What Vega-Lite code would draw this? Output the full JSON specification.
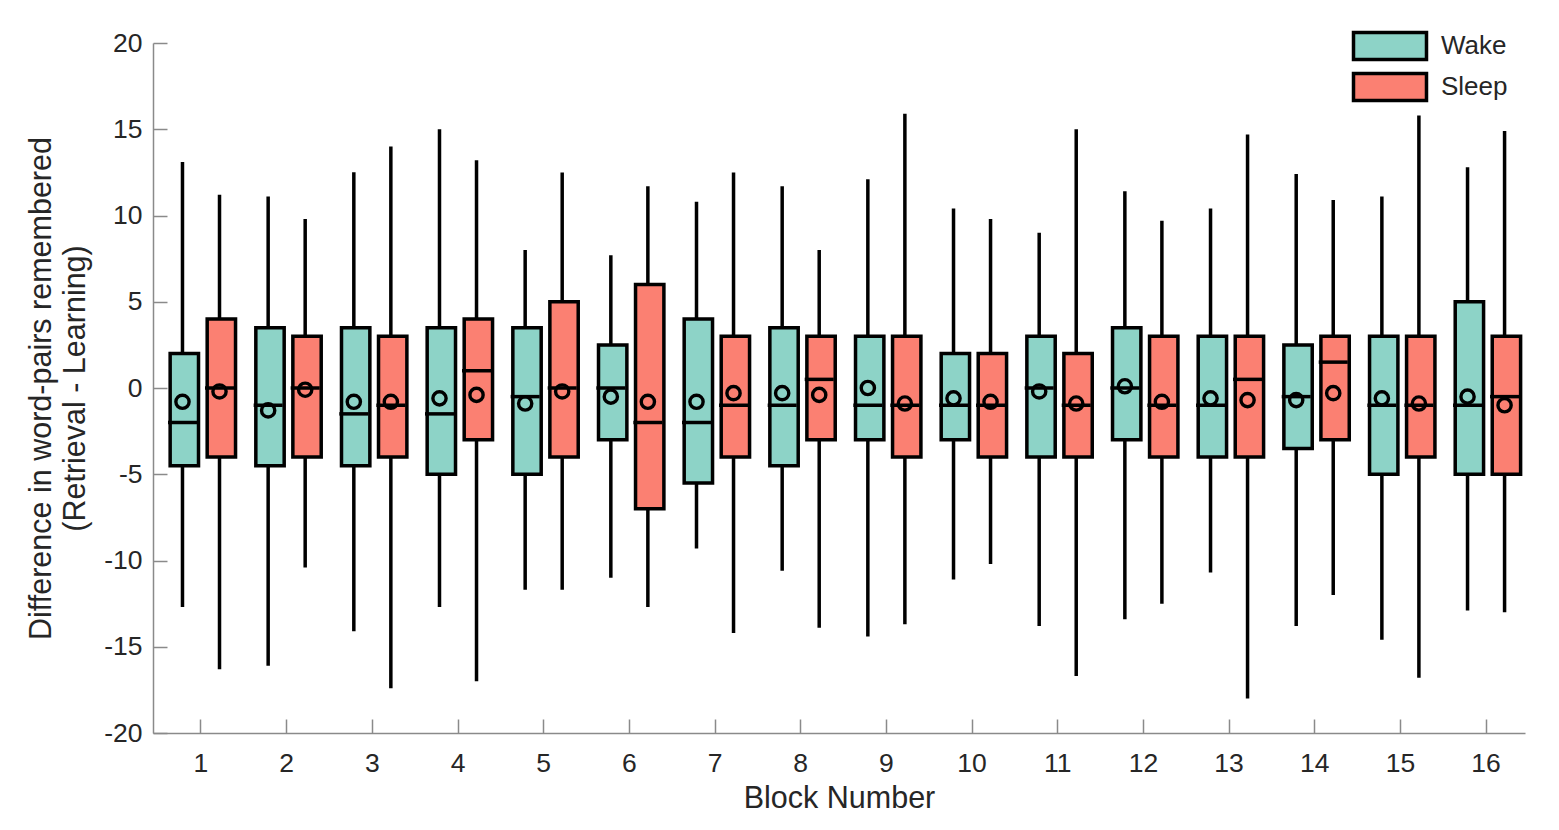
{
  "$schema": "https://vega.github.io/schema/vega-lite/v6.json",
  "autosize": {"type": "none"},
  "padding": {"left": 153, "top": 43, "right": 34, "bottom": 97},
  "width": 1372,
  "height": 690,
  "background": "white",
  "data": {
    "values": [
      {"block": 1, "group": "Wake", "lo": -12.7, "q1": -4.5, "med": -2, "q3": 2, "hi": 13.1, "mean": -0.8},
      {"block": 1, "group": "Sleep", "lo": -16.3, "q1": -4, "med": 0, "q3": 4, "hi": 11.2, "mean": -0.2},
      {"block": 2, "group": "Wake", "lo": -16.1, "q1": -4.5, "med": -1, "q3": 3.5, "hi": 11.1, "mean": -1.3},
      {"block": 2, "group": "Sleep", "lo": -10.4, "q1": -4, "med": 0, "q3": 3, "hi": 9.8, "mean": -0.1},
      {"block": 3, "group": "Wake", "lo": -14.1, "q1": -4.5, "med": -1.5, "q3": 3.5, "hi": 12.5, "mean": -0.8},
      {"block": 3, "group": "Sleep", "lo": -17.4, "q1": -4, "med": -1, "q3": 3, "hi": 14, "mean": -0.8},
      {"block": 4, "group": "Wake", "lo": -12.7, "q1": -5, "med": -1.5, "q3": 3.5, "hi": 15, "mean": -0.6},
      {"block": 4, "group": "Sleep", "lo": -17, "q1": -3, "med": 1, "q3": 4, "hi": 13.2, "mean": -0.4},
      {"block": 5, "group": "Wake", "lo": -11.7, "q1": -5, "med": -0.5, "q3": 3.5, "hi": 8, "mean": -0.9},
      {"block": 5, "group": "Sleep", "lo": -11.7, "q1": -4, "med": 0, "q3": 5, "hi": 12.5, "mean": -0.2},
      {"block": 6, "group": "Wake", "lo": -11, "q1": -3, "med": 0, "q3": 2.5, "hi": 7.7, "mean": -0.5},
      {"block": 6, "group": "Sleep", "lo": -12.7, "q1": -7, "med": -2, "q3": 6, "hi": 11.7, "mean": -0.8},
      {"block": 7, "group": "Wake", "lo": -9.3, "q1": -5.5, "med": -2, "q3": 4, "hi": 10.8, "mean": -0.8},
      {"block": 7, "group": "Sleep", "lo": -14.2, "q1": -4, "med": -1, "q3": 3, "hi": 12.5, "mean": -0.3},
      {"block": 8, "group": "Wake", "lo": -10.6, "q1": -4.5, "med": -1, "q3": 3.5, "hi": 11.7, "mean": -0.3},
      {"block": 8, "group": "Sleep", "lo": -13.9, "q1": -3, "med": 0.5, "q3": 3, "hi": 8, "mean": -0.4},
      {"block": 9, "group": "Wake", "lo": -14.4, "q1": -3, "med": -1, "q3": 3, "hi": 12.1, "mean": 0},
      {"block": 9, "group": "Sleep", "lo": -13.7, "q1": -4, "med": -1, "q3": 3, "hi": 15.9, "mean": -0.9},
      {"block": 10, "group": "Wake", "lo": -11.1, "q1": -3, "med": -1, "q3": 2, "hi": 10.4, "mean": -0.6},
      {"block": 10, "group": "Sleep", "lo": -10.2, "q1": -4, "med": -1, "q3": 2, "hi": 9.8, "mean": -0.8},
      {"block": 11, "group": "Wake", "lo": -13.8, "q1": -4, "med": 0, "q3": 3, "hi": 9, "mean": -0.2},
      {"block": 11, "group": "Sleep", "lo": -16.7, "q1": -4, "med": -1, "q3": 2, "hi": 15, "mean": -0.9},
      {"block": 12, "group": "Wake", "lo": -13.4, "q1": -3, "med": 0, "q3": 3.5, "hi": 11.4, "mean": 0.1},
      {"block": 12, "group": "Sleep", "lo": -12.5, "q1": -4, "med": -1, "q3": 3, "hi": 9.7, "mean": -0.8},
      {"block": 13, "group": "Wake", "lo": -10.7, "q1": -4, "med": -1, "q3": 3, "hi": 10.4, "mean": -0.6},
      {"block": 13, "group": "Sleep", "lo": -18, "q1": -4, "med": 0.5, "q3": 3, "hi": 14.7, "mean": -0.7},
      {"block": 14, "group": "Wake", "lo": -13.8, "q1": -3.5, "med": -0.5, "q3": 2.5, "hi": 12.4, "mean": -0.7},
      {"block": 14, "group": "Sleep", "lo": -12, "q1": -3, "med": 1.5, "q3": 3, "hi": 10.9, "mean": -0.3},
      {"block": 15, "group": "Wake", "lo": -14.6, "q1": -5, "med": -1, "q3": 3, "hi": 11.1, "mean": -0.6},
      {"block": 15, "group": "Sleep", "lo": -16.8, "q1": -4, "med": -1, "q3": 3, "hi": 15.8, "mean": -0.9},
      {"block": 16, "group": "Wake", "lo": -12.9, "q1": -5, "med": -1, "q3": 5, "hi": 12.8, "mean": -0.5},
      {"block": 16, "group": "Sleep", "lo": -13, "q1": -5, "med": -0.5, "q3": 3, "hi": 14.9, "mean": -1}
    ]
  },
  "encoding": {
    "x": {
      "field": "block",
      "type": "ordinal",
      "title": "Block Number",
      "scale": {"paddingInner": 0.2, "paddingOuter": 0.1074, "align": 0.746},
      "axis": {"labelAngle": 0, "labelPadding": 31, "titlePadding": 7}
    },
    "xOffset": {
      "field": "group",
      "type": "nominal",
      "scale": {"domain": ["Wake", "Sleep"], "paddingInner": 0.149, "paddingOuter": 0}
    }
  },
  "layer": [
    {
      "mark": {"type": "rule", "color": "black", "strokeWidth": 3.5},
      "encoding": {
        "y": {
          "field": "lo",
          "type": "quantitative",
          "scale": {"domain": [-20, 20], "nice": false},
          "title": ["Difference in word-pairs remembered", "(Retrieval - Learning)"],
          "axis": {
            "values": [-20, -15, -10, -5, 0, 5, 10, 15, 20],
            "labelExpr": "'' + datum.value",
            "labelPadding": 25,
            "titlePadding": 13
          }
        },
        "y2": {"field": "hi"}
      }
    },
    {
      "mark": {"type": "bar", "stroke": "black", "strokeWidth": 3.5, "width": {"band": 0.9}},
      "encoding": {
        "y": {"field": "q1", "type": "quantitative"},
        "y2": {"field": "q3"},
        "fill": {
          "field": "group",
          "type": "nominal",
          "scale": {"domain": ["Wake", "Sleep"], "range": ["#8dd3c7", "#fb8072"]},
          "legend": {"title": null}
        }
      }
    },
    {
      "mark": {"type": "tick", "color": "black", "thickness": 3.5, "size": 29, "opacity": 1},
      "encoding": {"y": {"field": "med", "type": "quantitative"}}
    },
    {
      "mark": {"type": "point", "shape": "circle", "filled": false, "stroke": "black", "strokeWidth": 3.4, "size": 175, "opacity": 1},
      "encoding": {"y": {"field": "mean", "type": "quantitative"}}
    }
  ],
  "config": {
    "view": {"stroke": null},
    "font": "Liberation Sans",
    "axis": {
      "grid": false,
      "domainColor": "#8a8a8a",
      "domainWidth": 1.5,
      "tickColor": "#8a8a8a",
      "tickWidth": 1.5,
      "tickSize": -14,
      "labelFont": "Liberation Sans",
      "labelFontSize": 26.5,
      "labelColor": "#262626",
      "titleFont": "Liberation Sans",
      "titleFontSize": 30.5,
      "titleFontWeight": "normal",
      "titleColor": "#262626",
      "titleLineHeight": 34
    },
    "legend": {
      "orient": "none",
      "legendX": 1217,
      "legendY": -17,
      "padding": 0,
      "rowPadding": -2,
      "symbolType": "M-2,-0.74H2V0.74H-2Z",
      "symbolSize": 1332,
      "symbolStrokeColor": "black",
      "symbolStrokeWidth": 3.5,
      "symbolOpacity": 1,
      "labelFont": "Liberation Sans",
      "labelFontSize": 26,
      "labelColor": "#262626",
      "labelOffset": 31
    }
  }
}
